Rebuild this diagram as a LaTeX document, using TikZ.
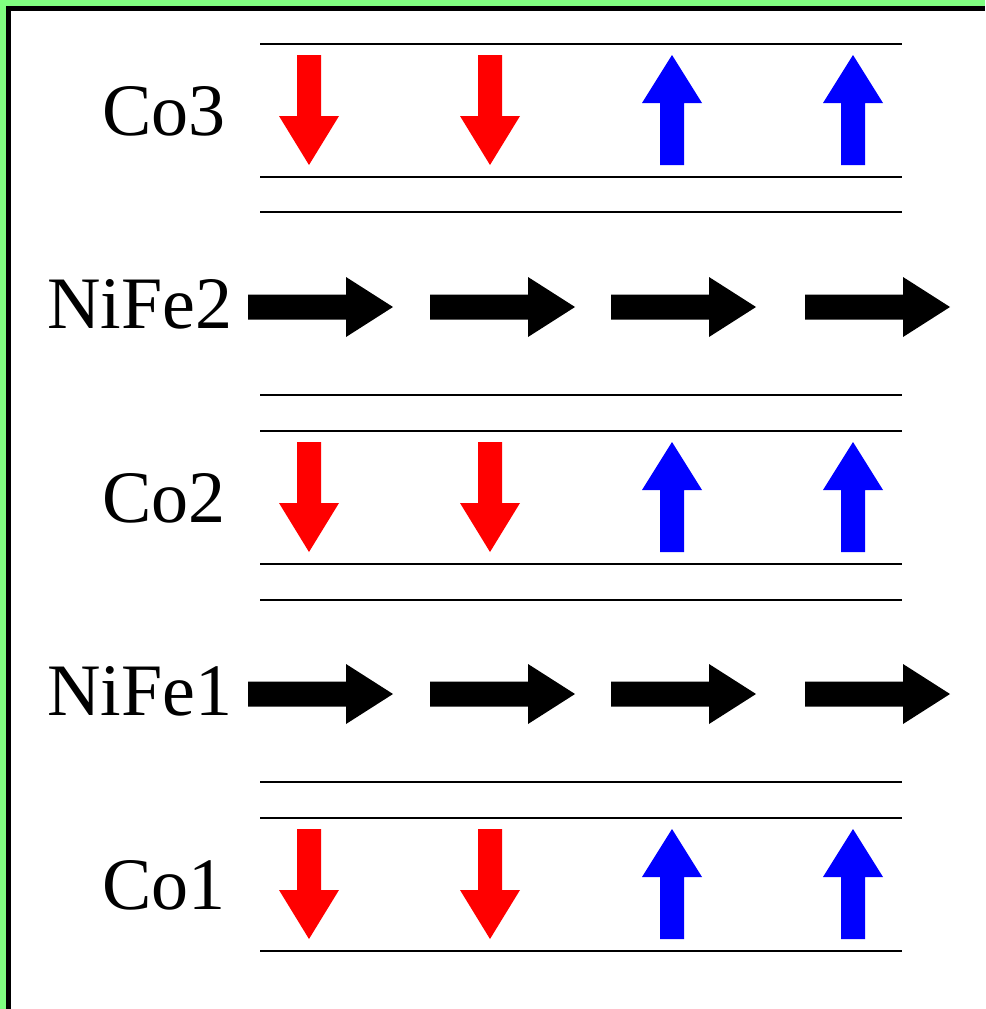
\documentclass[tikz,border=0pt]{standalone}
\usepackage{fontspec}
\setmainfont{Liberation Serif}
\definecolor{framegreen}{RGB}{128,255,128}
\begin{document}
\begin{tikzpicture}[x=1pt,y=-1pt,
  layerline/.style={line width=2.8pt,black},
  lbl/.style={anchor=base west,inner sep=0pt,font=\fontsize{74}{74}\selectfont},
  dnarrow/.pic={\fill[red] (-12,0) -- (12,0) -- (12,61) -- (30,61) -- (0,110) -- (-30,61) -- (-12,61) -- cycle;},
  uparrow/.pic={\fill[blue] (-12,0) -- (12,0) -- (12,-62) -- (30,-62) -- (0,-110) -- (-30,-62) -- (-12,-62) -- cycle;},
  rtarrow/.pic={\fill[black] (0,-12.5) -- (98,-12.5) -- (98,-30) -- (145,0) -- (98,30) -- (98,12.5) -- (0,12.5) -- cycle;}
]
\useasboundingbox (0,0) rectangle (985,1009);
\fill[framegreen] (0,0) rectangle (985,1009);
\fill[black] (6,6) rectangle (985,1009);
\fill[white] (11,11) rectangle (985,1009);
% layer lines
\foreach \yy in {44,177,212,395,431,564,600,782,818,951}
  \draw[layerline] (260,\yy) -- (902,\yy);
% Co layers
\foreach \off in {0,387,774}{
  \pic at (309,55+\off) {dnarrow};
  \pic at (490,55+\off) {dnarrow};
  \pic at (672,165+\off) {uparrow};
  \pic at (853,165+\off) {uparrow};
}
% NiFe layers
\foreach \yy in {307,694}
  \foreach \xx in {248,430,611,805}
    \pic at (\xx,\yy) {rtarrow};
% labels
\node[lbl] (co3) at (102,135) {Co3};
\node[lbl] (nife2) at (47,328) {NiFe2};
\node[lbl] (co2) at (102,522) {Co2};
\node[lbl] (nife1) at (47,715) {NiFe1};
\node[lbl] (co1) at (102,909) {Co1};
\end{tikzpicture}
\end{document}
